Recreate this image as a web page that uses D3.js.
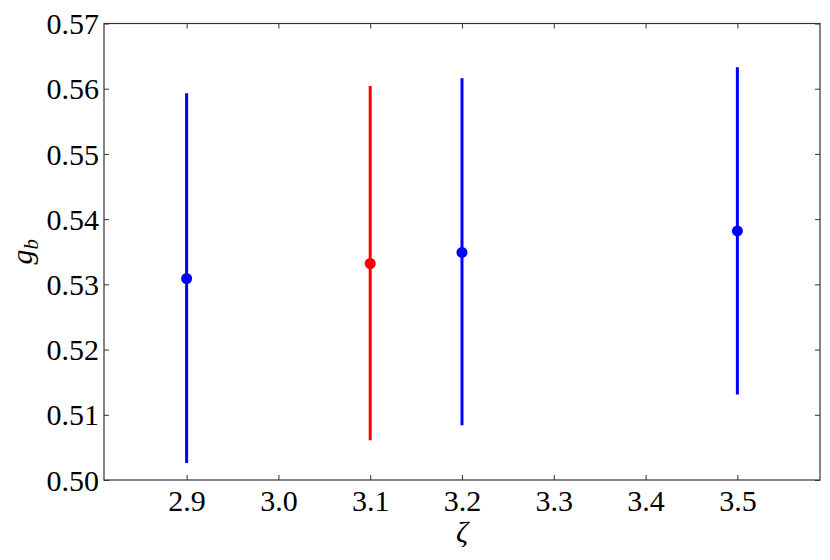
<!DOCTYPE html>
<html><head><meta charset="utf-8">
<script src="https://cdn.jsdelivr.net/npm/d3@7"></script>
<style>body{margin:0;background:#fff} svg text{font-family:"Liberation Serif","Times New Roman",Times,"Nimbus Roman","Nimbus Roman No9 L","DejaVu Serif","Noto Serif",FreeSerif,serif !important}</style>
</head><body>
<svg id="c" width="830" height="560"></svg>
<script>
const zeta = [2.9, 3.1, 3.2, 3.5];
const gb = [0.5309, 0.5332, 0.5349, 0.5382];
const gbLow = [0.5026, 0.5061, 0.5084, 0.5131];
const gbHigh = [0.5593, 0.5604, 0.5616, 0.5633];
const colors = ["#0000ff", "#ff0000", "#0000ff", "#0000ff"];
const xTicks = [2.9, 3.0, 3.1, 3.2, 3.3, 3.4, 3.5];
const yTicks = [0.50, 0.51, 0.52, 0.53, 0.54, 0.55, 0.56, 0.57];

const L = 104, R = 820, T = 23.5, B = 480;
const svg = d3.select("#c");
const x = d3.scaleLinear().domain([2.81, 3.59]).range([L, R]);
const y = d3.scaleLinear().domain([0.50, 0.57]).range([B, T]);

// frame
svg.append("rect").attr("x", L).attr("y", T).attr("width", R - L).attr("height", B - T)
  .attr("fill", "none").attr("stroke", "#333").attr("stroke-width", 1.2);

// axes
const xa = svg.append("g").attr("transform", `translate(0,${B})`)
  .call(d3.axisBottom(x).tickValues(xTicks).tickFormat(d3.format(".1f")).tickSizeInner(-5).tickSizeOuter(0).tickPadding(9));
const xt = svg.append("g").attr("transform", `translate(0,${T})`)
  .call(d3.axisTop(x).tickValues(xTicks).tickFormat("").tickSizeInner(-5).tickSizeOuter(0));
const ya = svg.append("g").attr("transform", `translate(${L},0)`)
  .call(d3.axisLeft(y).tickValues(yTicks).tickFormat(d3.format(".2f")).tickSizeInner(-5).tickSizeOuter(0).tickPadding(5));
const yr = svg.append("g").attr("transform", `translate(${R},0)`)
  .call(d3.axisRight(y).tickValues(yTicks).tickFormat("").tickSizeInner(-5).tickSizeOuter(0));
[xa, xt, ya, yr].forEach(g => {
  g.attr("font-family", null);
  g.select(".domain").remove();
  g.selectAll(".tick line").attr("stroke", "#333").attr("stroke-width", 1);
  g.selectAll("text").attr("font-size", 30).attr("fill", "#000");
});
ya.selectAll(".tick text").attr("dy", "0.34em");
xa.selectAll(".tick text").attr("dy", "0.74em");

// error bars
svg.append("g").selectAll("line").data(zeta).join("line")
  .attr("x1", d => x(d)).attr("x2", d => x(d))
  .attr("y1", (d, i) => y(gbLow[i])).attr("y2", (d, i) => y(gbHigh[i]))
  .attr("stroke", (d, i) => colors[i]).attr("stroke-width", 3);
svg.append("g").selectAll("circle").data(zeta).join("circle")
  .attr("cx", d => x(d)).attr("cy", (d, i) => y(gb[i])).attr("r", 5.5)
  .attr("fill", (d, i) => colors[i]);

// labels
svg.append("text").attr("x", (L + R) / 2).attr("y", 542).attr("text-anchor", "middle")
  .attr("font-style", "italic").attr("font-size", 30).text("ζ");
const yl = svg.append("text").attr("transform", `translate(32,${(T + B) / 2}) rotate(-90)`)
  .attr("text-anchor", "middle").attr("font-style", "italic").attr("font-size", 30);
yl.append("tspan").text("g");
yl.append("tspan").attr("font-size", 21).attr("dy", 6).text("b");
</script>
</body></html>
